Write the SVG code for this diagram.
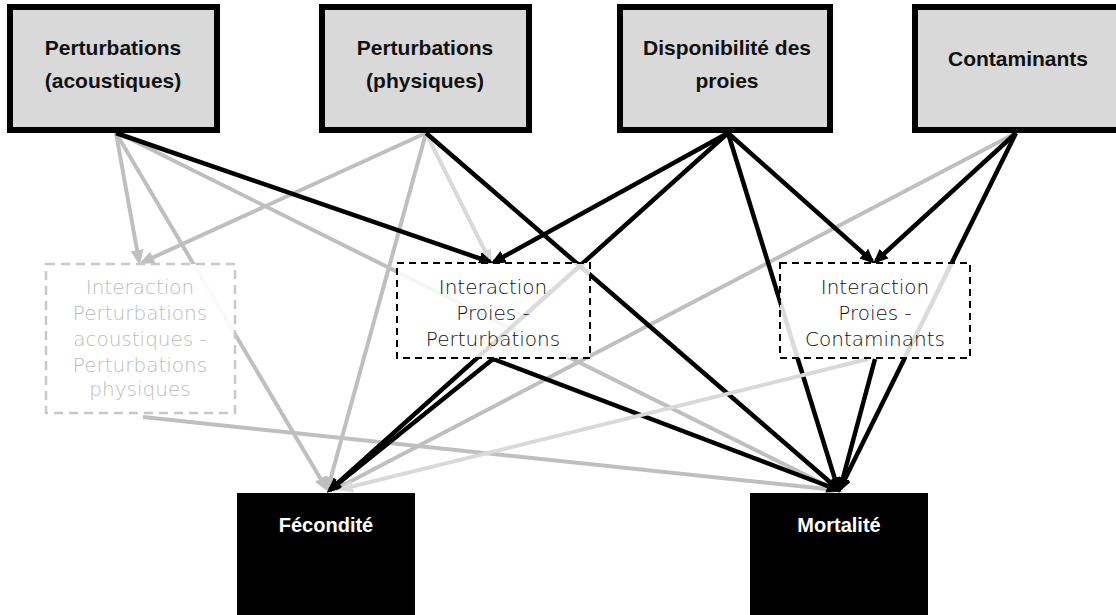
<svg xmlns="http://www.w3.org/2000/svg" width="1116" height="615" viewBox="0 0 1116 615">
  <style>
    .src rect { fill: #d9d9d9; stroke: #000; stroke-width: 6; }
    .src text { font-family: "Liberation Sans", Arial, sans-serif; font-weight: bold; font-size: 21px; fill: #111; text-anchor: middle; }
    .out rect { fill: #000; }
    .out text { font-family: "Liberation Sans", Arial, sans-serif; font-weight: bold; font-size: 20px; fill: #fff; text-anchor: middle; }
    .mix rect { fill: #fff; fill-opacity: 0.86; stroke: #000; stroke-width: 2; stroke-dasharray: 7 5; }
    .mix text { font-family: "DejaVu Sans", sans-serif; font-weight: 200; font-size: 20px; fill: #111; text-anchor: middle; }
    .mix.faded rect { stroke: #c8c8c8; stroke-width: 2.5; stroke-dasharray: 9 6; fill-opacity: 0.92; }
    .mix.faded text { fill: #bcbcbc; }
    .k { stroke: #000; stroke-width: 4.5; fill: none; marker-end: url(#ak); }
    .g { stroke: #bfbfbf; stroke-width: 4; fill: none; marker-end: url(#ag); }
    .l { stroke: #d9d9d9; stroke-width: 4; fill: none; marker-end: url(#al); }
  </style>
  <defs>
    <marker id="ak" markerUnits="userSpaceOnUse" markerWidth="16" markerHeight="14" refX="11" refY="6.5" orient="auto">
      <path d="M0,0 L15,6.5 L0,13 z" fill="#000"/>
    </marker>
    <marker id="ag" markerUnits="userSpaceOnUse" markerWidth="16" markerHeight="14" refX="11" refY="6.5" orient="auto">
      <path d="M0,0 L15,6.5 L0,13 z" fill="#bfbfbf"/>
    </marker>
    <marker id="al" markerUnits="userSpaceOnUse" markerWidth="16" markerHeight="14" refX="11" refY="6.5" orient="auto">
      <path d="M0,0 L15,6.5 L0,13 z" fill="#d9d9d9"/>
    </marker>
  </defs>

  <!-- connectors -->
  <g id="connectors">
    <!-- mid grey -->
    <line class="g" x1="116" y1="133" x2="139" y2="261"/>
    <line class="g" x1="426" y1="133" x2="143" y2="262"/>
    <line class="g" x1="116" y1="133" x2="326" y2="488"/>
    <line class="g" x1="118" y1="133" x2="834" y2="489"/>
    <line class="g" x1="426" y1="133" x2="328" y2="488"/>
    <line class="g" x1="143" y1="417" x2="836" y2="490"/>
    <line class="g" x1="1016" y1="133" x2="336" y2="489"/>
    <!-- light grey -->
    <line class="l" x1="426" y1="133" x2="490" y2="261"/>
    <!-- black -->
    <line class="k" x1="116" y1="133" x2="490" y2="262"/>
    <line class="k" x1="426" y1="133" x2="838" y2="489"/>
    <line class="k" x1="728" y1="133" x2="494" y2="262"/>
    <line class="k" x1="728" y1="133" x2="330" y2="490"/>
    <line class="k" x1="728" y1="133" x2="838" y2="489"/>
    <line class="k" x1="728" y1="133" x2="872" y2="261"/>
    <line class="k" x1="1016" y1="133" x2="876" y2="261"/>
    <line class="k" x1="1016" y1="133" x2="840" y2="489"/>
    <line class="k" x1="493" y1="359" x2="330" y2="490"/>
    <line class="k" x1="493" y1="359" x2="838" y2="490"/>
    <line class="k" x1="875" y1="359" x2="840" y2="489"/>
    <!-- light grey, drawn last -->
    <line class="l" x1="868" y1="359" x2="342" y2="489"/>
  </g>

  <!-- driver nodes -->
  <g id="n-acoustiques" class="src">
    <rect x="10" y="7" width="207" height="123"/>
    <text x="113" y="55">Perturbations</text>
    <text x="113" y="88">(acoustiques)</text>
  </g>
  <g id="n-physiques" class="src">
    <rect x="322" y="7" width="207" height="123"/>
    <text x="425" y="55">Perturbations</text>
    <text x="425" y="88">(physiques)</text>
  </g>
  <g id="n-proies" class="src">
    <rect x="620" y="7" width="210" height="123"/>
    <text x="727" y="55">Disponibilité des</text>
    <text x="727" y="88">proies</text>
  </g>
  <g id="n-contaminants" class="src">
    <rect x="915" y="7" width="207" height="123"/>
    <text x="1018" y="66">Contaminants</text>
  </g>

  <!-- interaction nodes -->
  <g id="n-int-perturbations" class="mix faded">
    <rect x="46" y="264" width="189" height="149"/>
    <text x="140" y="294">Interaction</text>
    <text x="140" y="320">Perturbations</text>
    <text x="140" y="346">acoustiques -</text>
    <text x="140" y="372">Perturbations</text>
    <text x="140" y="396">physiques</text>
  </g>
  <g id="n-int-proies-perturbations" class="mix">
    <rect x="397" y="263" width="193" height="95"/>
    <text x="493" y="294">Interaction</text>
    <text x="493" y="320">Proies -</text>
    <text x="493" y="346">Perturbations</text>
  </g>
  <g id="n-int-proies-contaminants" class="mix">
    <rect x="780" y="263" width="190" height="95"/>
    <text x="875" y="294">Interaction</text>
    <text x="875" y="320">Proies -</text>
    <text x="875" y="346">Contaminants</text>
  </g>

  <!-- outcome nodes -->
  <g id="n-fecondite" class="out">
    <rect x="237" y="493" width="178" height="122"/>
    <text x="326" y="532">Fécondité</text>
  </g>
  <g id="n-mortalite" class="out">
    <rect x="750" y="493" width="178" height="122"/>
    <text x="839" y="532">Mortalité</text>
  </g>
</svg>
